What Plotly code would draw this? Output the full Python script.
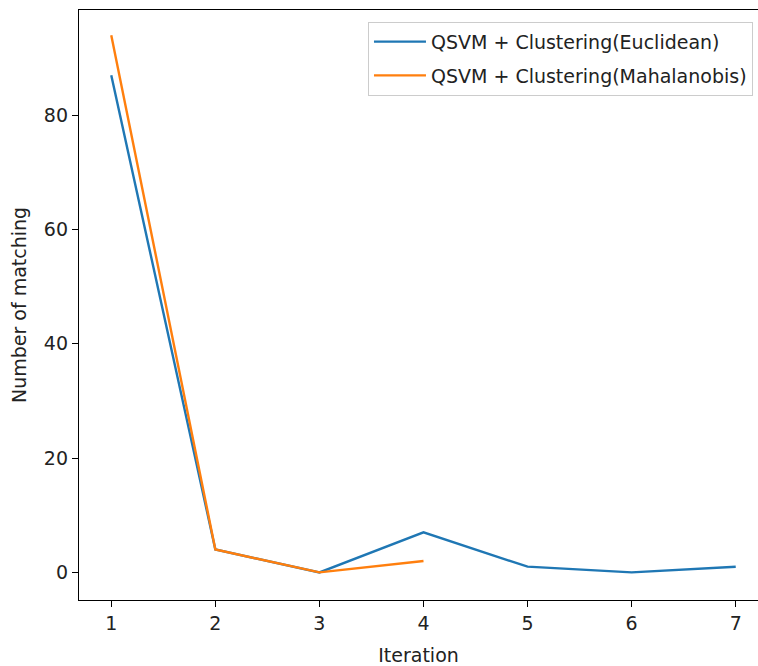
import plotly.graph_objects as go

iter_euc = [1, 2, 3, 4, 5, 6, 7]
match_euc = [87, 4, 0, 7, 1, 0, 1]
iter_mah = [1, 2, 3, 4]
match_mah = [94, 4, 0, 2]
name_euc = "QSVM + Clustering(Euclidean)"
name_mah = "QSVM + Clustering(Mahalanobis)"
x_ticks = [1, 2, 3, 4, 5, 6, 7]
y_ticks = [0, 20, 40, 60, 80]

fig = go.Figure()
fig.add_trace(go.Scatter(x=iter_euc, y=match_euc, mode="lines", name=name_euc,
                         legendgroup="a",
                         line=dict(color="#1f77b4", width=2.4)))
fig.add_trace(go.Scatter(x=iter_mah, y=match_mah, mode="lines", name=name_mah,
                         legendgroup="b",
                         line=dict(color="#ff7f0e", width=2.4)))

font = dict(family="DejaVu Sans", size=19, color="#222")
fig.update_layout(
    width=758, height=666,
    margin=dict(l=79, r=0, t=10, b=66),
    paper_bgcolor="white", plot_bgcolor="white",
    font=font,
    showlegend=True,
    legend=dict(x=0.9926, y=0.98, xanchor="right", yanchor="top",
                bgcolor="rgba(255,255,255,0.8)", bordercolor="#cccccc", borderwidth=1,
                font=dict(family="DejaVu Sans", size=19, color="#222"),
                tracegroupgap=6, itemwidth=52),
    xaxis=dict(range=[0.69, 7.214], tickvals=x_ticks, showgrid=False, zeroline=False,
               showline=True, linecolor="black", linewidth=1.3, mirror=True,
               ticks="outside", ticklen=6, tickcolor="black", tickwidth=1.3,
               title=dict(text="Iteration", standoff=16, font=font)),
    yaxis=dict(range=[-4.83, 98.4], tickvals=y_ticks, showgrid=False, zeroline=False,
               showline=True, linecolor="black", linewidth=1.3, mirror=False,
               ticks="outside", ticklen=6, tickcolor="black", tickwidth=1.3,
               title=dict(text="Number of matching", standoff=12, font=font)),
)
fig.write_html("out.html")
